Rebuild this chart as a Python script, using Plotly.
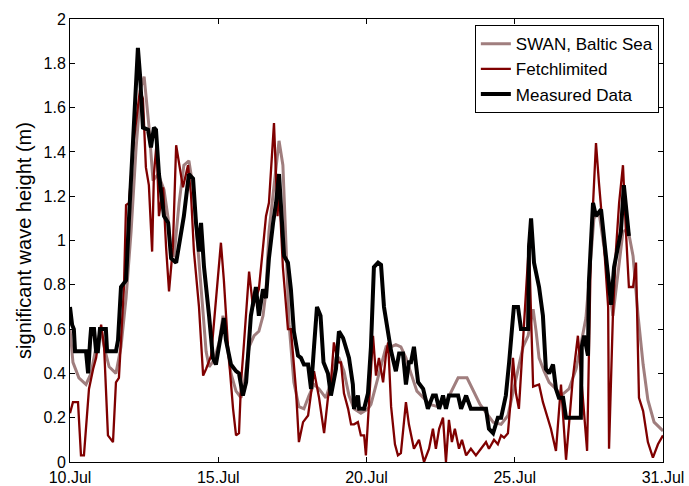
import plotly.graph_objects as go

# ---- data (x in days of July, y = significant wave height in m) ----
swan_x = [10.00, 10.10, 10.30, 10.54, 10.71, 10.88, 11.05, 11.15, 11.32, 11.55, 11.72, 11.89, 12.06, 12.23,
          12.39, 12.50, 12.66, 12.80, 12.97, 13.17, 13.31, 13.41, 13.51, 13.68, 13.84, 14.01, 14.15, 14.32,
          14.49, 14.59, 14.69, 14.86, 15.03, 15.16, 15.26, 15.43, 15.60, 15.77, 15.87, 16.04, 16.21, 16.37,
          16.51, 16.61, 16.71, 16.88, 17.05, 17.18, 17.28, 17.39, 17.55, 17.72, 17.89, 18.06, 18.23, 18.40,
          18.57, 18.63, 18.80, 18.97, 19.07, 19.24, 19.41, 19.58, 19.81, 20.05, 20.15, 20.32, 20.49, 20.66,
          20.83, 20.99, 21.16, 21.33, 21.50, 21.70, 22.14, 22.41, 22.72, 23.09, 23.39, 23.83, 24.27, 24.54,
          24.77, 24.94, 25.11, 25.28, 25.45, 25.62, 25.72, 25.82, 25.99, 26.16, 26.39, 26.56, 26.83, 27.07,
          27.23, 27.40, 27.50, 27.67, 27.84, 28.01, 28.18, 28.31, 28.48, 28.65, 28.82, 28.99, 29.16, 29.33,
          29.49, 29.70, 30.00]
swan_y = [0.60, 0.45, 0.38, 0.35, 0.40, 0.52, 0.60, 0.52, 0.43, 0.40, 0.52, 0.74, 1.04, 1.42,
          1.69, 1.74, 1.52, 1.27, 1.30, 1.23, 1.10, 0.93, 0.93, 1.17, 1.34, 1.36, 1.24, 0.97,
          0.67, 0.50, 0.43, 0.46, 0.54, 0.66, 0.57, 0.40, 0.32, 0.29, 0.35, 0.52, 0.57, 0.59,
          0.66, 0.77, 1.04, 1.24, 1.45, 1.34, 0.97, 0.62, 0.36, 0.25, 0.24, 0.30, 0.35, 0.33,
          0.30, 0.29, 0.36, 0.47, 0.47, 0.41, 0.30, 0.24, 0.22, 0.24, 0.26, 0.35, 0.44, 0.52,
          0.52, 0.53, 0.52, 0.47, 0.40, 0.32, 0.26, 0.25, 0.28, 0.38, 0.38, 0.26, 0.18, 0.17,
          0.21, 0.31, 0.42, 0.52, 0.57, 0.69, 0.59, 0.47, 0.41, 0.36, 0.33, 0.30, 0.33, 0.42,
          0.53, 0.65, 0.81, 1.10, 1.13, 0.98, 0.81, 0.66, 0.84, 1.04, 1.05, 0.93, 0.66, 0.44,
          0.28, 0.18, 0.14]

fetch_x = [10.00, 10.10, 10.27, 10.37, 10.47, 10.64, 10.78, 10.88, 11.05, 11.15, 11.28, 11.45, 11.55, 11.65,
           11.82, 11.89, 11.99, 12.15, 12.36, 12.46, 12.56, 12.66, 12.77, 12.83, 12.92, 13.00, 13.14, 13.24,
           13.34, 13.47, 13.58, 13.68, 13.81, 13.98, 14.08, 14.18, 14.35, 14.49, 14.59, 14.76, 14.99, 15.09,
           15.19, 15.33, 15.50, 15.60, 15.70, 15.77, 15.87, 16.04, 16.17, 16.27, 16.37, 16.51, 16.61, 16.71,
           16.88, 17.00, 17.05, 17.18, 17.35, 17.45, 17.62, 17.72, 17.86, 18.03, 18.13, 18.23, 18.40, 18.53,
           18.57, 18.70, 18.80, 18.90, 19.04, 19.14, 19.24, 19.38, 19.48, 19.58, 19.71, 19.81, 19.92, 19.98,
           20.08, 20.22, 20.32, 20.42, 20.56, 20.66, 20.73, 20.83, 20.96, 21.06, 21.16, 21.33, 21.43, 21.60,
           21.77, 21.94, 22.11, 22.24, 22.34, 22.45, 22.58, 22.68, 22.78, 22.88, 22.98, 23.12, 23.22, 23.36,
           23.52, 23.69, 23.86, 24.03, 24.13, 24.30, 24.43, 24.54, 24.64, 24.77, 24.87, 24.94, 25.04, 25.14,
           25.28, 25.48, 25.62, 25.82, 25.95, 26.22, 26.39, 26.56, 26.73, 26.96, 27.13, 27.26, 27.44, 27.57,
           27.74, 27.84, 27.98, 28.15, 28.18, 28.31, 28.41, 28.52, 28.65, 28.75, 28.85, 28.99, 29.09, 29.19,
           29.33, 29.49, 29.66, 29.83, 30.00]
fetch_y = [0.22, 0.27, 0.27, 0.03, 0.03, 0.33, 0.42, 0.47, 0.62, 0.52, 0.12, 0.09, 0.36, 0.38,
           0.79, 1.16, 1.17, 1.45, 1.68, 1.64, 1.33, 1.25, 0.95, 1.30, 1.44, 1.11, 1.24, 0.97,
           0.77, 0.97, 1.43, 1.34, 1.24, 1.34, 1.21, 0.95, 0.70, 0.39, 0.42, 0.48, 0.82, 0.99,
           0.82, 0.52, 0.24, 0.12, 0.13, 0.36, 0.54, 0.86, 0.70, 0.74, 0.78, 0.97, 1.11, 1.17,
           1.53, 1.11, 1.24, 0.88, 0.60, 0.60, 0.33, 0.09, 0.18, 0.21, 0.31, 0.41, 0.29, 0.17,
           0.13, 0.29, 0.36, 0.54, 0.45, 0.45, 0.31, 0.24, 0.17, 0.17, 0.18, 0.12, 0.12, 0.03,
           0.24, 0.57, 0.39, 0.47, 0.36, 0.49, 0.54, 0.25, 0.08, 0.03, 0.04, 0.27, 0.17, 0.06,
           0.10, 0.00, 0.06, 0.15, 0.06, 0.15, 0.20, 0.00, 0.19, 0.09, 0.15, 0.06, 0.10, 0.03,
           0.06, 0.03, 0.06, 0.09, 0.06, 0.10, 0.08, 0.12, 0.11, 0.13, 0.29, 0.47, 0.31, 0.24,
           0.55, 0.99, 0.34, 0.35, 0.27, 0.15, 0.05, 0.35, 0.01, 0.38, 0.57, 0.35, 0.05, 0.97,
           1.44, 1.26, 1.04, 0.70, 0.06, 0.66, 0.95, 1.17, 1.34, 1.04, 0.79, 0.79, 0.90, 0.29,
           0.23, 0.09, 0.02, 0.08, 0.12]

meas_x = [10.00, 10.07, 10.13, 10.17, 10.54, 10.61, 10.68, 10.71, 10.81, 10.88, 10.94, 11.01, 11.21, 11.25,
          11.55, 11.62, 11.72, 11.89, 11.99, 12.10, 12.20, 12.29, 12.36, 12.46, 12.63, 12.73, 12.83, 12.90,
          13.00, 13.17, 13.31, 13.41, 13.58, 13.68, 13.84, 14.01, 14.15, 14.25, 14.35, 14.42, 14.52, 14.69,
          14.82, 14.92, 15.09, 15.19, 15.26, 15.43, 15.60, 15.70, 15.83, 15.94, 16.10, 16.27, 16.37, 16.51,
          16.61, 16.71, 16.85, 16.95, 17.05, 17.12, 17.22, 17.35, 17.45, 17.55, 17.69, 17.79, 17.89, 18.03,
          18.13, 18.23, 18.33, 18.45, 18.55, 18.70, 18.80, 18.97, 19.07, 19.21, 19.31, 19.41, 19.54, 19.58,
          19.71, 19.75, 19.92, 20.05, 20.15, 20.25, 20.39, 20.49, 20.59, 20.73, 20.83, 20.99, 21.10, 21.23,
          21.33, 21.43, 21.50, 21.60, 21.74, 21.91, 22.07, 22.24, 22.34, 22.45, 22.58, 22.68, 22.78, 23.09,
          23.19, 23.36, 23.52, 24.03, 24.13, 24.27, 24.43, 24.54, 24.70, 24.81, 24.97, 25.11, 25.21, 25.45,
          25.48, 25.55, 25.65, 25.82, 25.95, 26.05, 26.16, 26.29, 26.39, 26.49, 26.63, 26.73, 27.23, 27.26,
          27.34, 27.47, 27.50, 27.64, 27.74, 27.91, 28.01, 28.15, 28.25, 28.35, 28.48, 28.58, 28.68, 28.79,
          28.85]
meas_y = [0.70, 0.62, 0.60, 0.50, 0.50, 0.40, 0.55, 0.60, 0.60, 0.50, 0.50, 0.60, 0.60, 0.50,
          0.50, 0.55, 0.79, 0.82, 1.10, 1.40, 1.70, 1.87, 1.75, 1.51, 1.50, 1.42, 1.51, 1.50,
          1.30, 1.11, 1.08, 0.92, 0.90, 0.99, 1.11, 1.30, 1.28, 1.08, 0.95, 1.08, 0.88, 0.66,
          0.47, 0.44, 0.57, 0.65, 0.55, 0.44, 0.41, 0.40, 0.30, 0.36, 0.66, 0.79, 0.66, 0.78,
          0.74, 0.92, 1.08, 1.17, 1.30, 1.17, 0.93, 0.90, 0.78, 0.59, 0.48, 0.47, 0.44, 0.44,
          0.33, 0.52, 0.70, 0.66, 0.45, 0.40, 0.30, 0.42, 0.59, 0.56, 0.52, 0.47, 0.35, 0.24,
          0.30, 0.24, 0.24, 0.31, 0.52, 0.88, 0.90, 0.89, 0.70, 0.57, 0.50, 0.41, 0.49, 0.49,
          0.35, 0.45, 0.45, 0.52, 0.36, 0.33, 0.24, 0.30, 0.30, 0.24, 0.30, 0.24, 0.30, 0.30,
          0.24, 0.30, 0.24, 0.24, 0.15, 0.13, 0.20, 0.20, 0.30, 0.45, 0.70, 0.70, 0.60, 0.60,
          0.97, 1.10, 0.90, 0.79, 0.66, 0.42, 0.40, 0.44, 0.33, 0.29, 0.29, 0.20, 0.20, 0.52,
          0.57, 0.48, 0.81, 1.17, 1.11, 1.14, 1.02, 0.84, 0.71, 0.88, 0.98, 1.04, 1.25, 1.11,
          1.02]

x_tickvals = [10, 15, 20, 25, 30]
x_ticktext = ["10.Jul", "15.Jul", "20.Jul", "25.Jul", "31.Jul"]
y_tickvals = [0, 0.2, 0.4, 0.6, 0.8, 1, 1.2, 1.4, 1.6, 1.8, 2]
y_ticktext = ["0", "0.2", "0.4", "0.6", "0.8", "1", "1.2", "1.4", "1.6", "1.8", "2"]

FONT = "Liberation Sans, Arial, sans-serif"

fig = go.Figure()
fig.add_trace(go.Scatter(x=swan_x, y=swan_y, mode="lines", name="SWAN, Baltic Sea",
                         line=dict(color="#a07e7e", width=3)))
fig.add_trace(go.Scatter(x=fetch_x, y=fetch_y, mode="lines", name="Fetchlimited",
                         line=dict(color="#7f0000", width=2.3)))
fig.add_trace(go.Scatter(x=meas_x, y=meas_y, mode="lines", name="Measured Data",
                         line=dict(color="black", width=4)))

axis_common = dict(showgrid=False, zeroline=False, showline=True, linecolor="black", linewidth=1,
                   mirror="ticks", ticks="inside", ticklen=5, tickcolor="black", automargin=False,
                   tickfont=dict(family=FONT, size=16, color="black"))

fig.update_layout(
    width=689, height=486,
    margin=dict(l=70, r=26, t=19, b=24),
    paper_bgcolor="white", plot_bgcolor="white",
    font=dict(family=FONT, size=16, color="black"),
    showlegend=True,
    legend=dict(x=0.993, y=0.986, xanchor="right", yanchor="top",
                bgcolor="white", bordercolor="black", borderwidth=1,
                font=dict(family=FONT, size=17, color="black"), tracegroupgap=0,
                itemwidth=30),
    xaxis=dict(range=[10, 30], tickvals=x_tickvals, ticktext=x_ticktext, ticklabelstandoff=1,
               **axis_common),
    yaxis=dict(range=[0, 2], tickvals=y_tickvals, ticktext=y_ticktext,
               title=dict(text="significant wave height (m)", standoff=6,
                          font=dict(family=FONT, size=20, color="black")),
               **axis_common),
)

fig.write_html("out.html")
